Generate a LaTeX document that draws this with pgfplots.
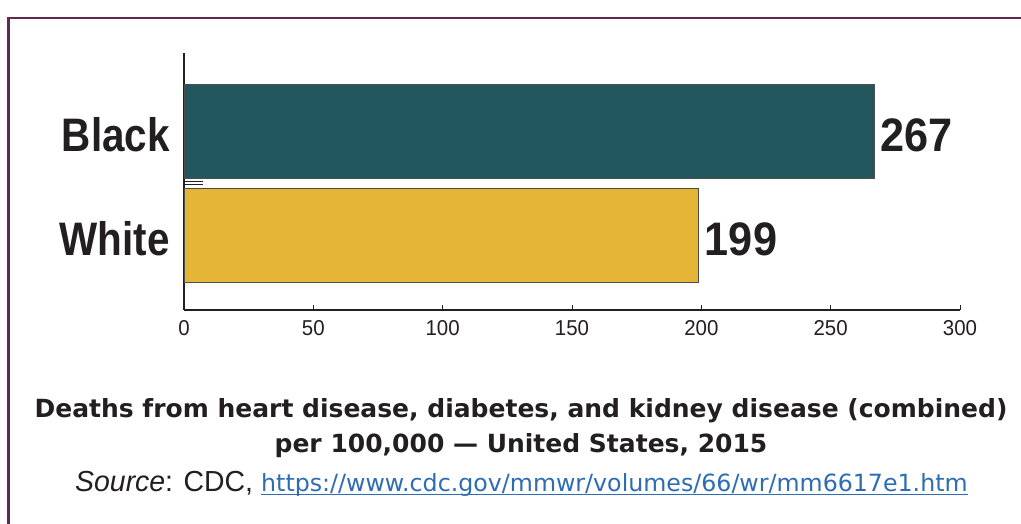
\documentclass[border=0pt]{standalone}
\usepackage{fontspec}
\setmainfont{Liberation Sans}
\newfontfamily\catfont[FakeStretch=0.86]{Liberation Sans}
\newfontfamily\numfont[FakeStretch=0.92]{Liberation Sans}
\newfontfamily\titfont{DejaVu Sans}
\newfontfamily\srcfont[FakeStretch=0.98]{Liberation Sans}
\newfontfamily\tickfont[FakeStretch=0.95]{Liberation Sans}
\newfontfamily\urlfont{DejaVu Sans}
\usepackage{pgfplots}
\pgfplotsset{compat=1.18}
\definecolor{frame}{RGB}{94,42,78}
\definecolor{teal}{RGB}{34,87,94}
\definecolor{gold}{RGB}{228,181,55}
\definecolor{ink}{RGB}{35,31,32}
\definecolor{urlblue}{RGB}{46,109,180}
\begin{document}
\begin{tikzpicture}[x=1bp,y=1bp]
\useasboundingbox (0,0) rectangle (1021,524);
\fill[white] (0,0) rectangle (1021,524);
\draw[frame, line width=2.2bp] (8.5,0) -- (8.5,506) -- (1021,506);
\begin{axis}[
  at={(184bp,214bp)}, anchor=south west,
  scale only axis, width=776bp, height=257bp,
  xmin=0, xmax=300, ymin=-0.721, ymax=1.75,
  axis x line=bottom, axis y line=left,
  axis line style={ink, line width=1.2bp, -},
  xtick={0,50,...,300}, ytick=\empty,
  tick align=inside, major tick length=5bp,
  tick style={ink, line width=1bp},
  xticklabel style={font=\tickfont\fontsize{21.5bp}{24bp}\selectfont, text=ink, inner sep=0pt, yshift=-10bp},
  /pgf/number format/assume math mode=true,
  xbar, bar width=94bp, bar shift=0pt,
  clip=false,
]
\addplot[fill=teal, draw=ink!80, line width=0.9bp] coordinates {(267,1)};
\addplot[fill=gold, draw=ink!80, line width=0.9bp] coordinates {(199,0)};
\draw[ink, line width=1bp] ([yshift=1.3bp]axis cs:0,0.5) -- ([yshift=1.3bp,xshift=19bp]axis cs:0,0.5);
\draw[ink, line width=1bp] ([yshift=-1.3bp]axis cs:0,0.5) -- ([yshift=-1.3bp,xshift=19bp]axis cs:0,0.5);
\node[anchor=east, inner sep=0pt, text=ink, font=\catfont\bfseries\fontsize{47bp}{56bp}\selectfont] at ([xshift=-14bp,yshift=-4bp]axis cs:0,1) {Black};
\node[anchor=east, inner sep=0pt, text=ink, font=\catfont\bfseries\fontsize{47bp}{56bp}\selectfont] at ([xshift=-14bp,yshift=-4bp]axis cs:0,0) {White};
\node[anchor=west, inner sep=0pt, text=ink, font=\numfont\bfseries\fontsize{47bp}{56bp}\selectfont] at ([xshift=6bp,yshift=-4bp]axis cs:267,1) {267};
\node[anchor=west, inner sep=0pt, text=ink, font=\numfont\bfseries\fontsize{47bp}{56bp}\selectfont] at ([xshift=6bp,yshift=-4bp]axis cs:199,0) {199};
\end{axis}
\node[anchor=base, inner sep=0pt, text=ink, font=\titfont\bfseries\fontsize{25bp}{30bp}\selectfont] at (521,106) {Deaths from heart disease, diabetes, and kidney disease (combined)};
\node[anchor=base, inner sep=0pt, text=ink, font=\titfont\bfseries\fontsize{25bp}{30bp}\selectfont] at (521,71) {per 100,000 — United States, 2015};
\node[anchor=base west, inner sep=0pt, text=ink, font=\srcfont\fontsize{29bp}{32bp}\selectfont] at (75,32) {\textit{Source}: CDC,};
\node[anchor=base west, inner sep=0pt, text=urlblue, font=\urlfont\fontsize{23.7bp}{28bp}\selectfont] (url) at (261,32) {https://www.cdc.gov/mmwr/volumes/66/wr/mm6617e1.htm};
\draw[urlblue, line width=1bp] ([yshift=-2.5bp]url.base west) -- ([yshift=-2.5bp]url.base east);
\end{tikzpicture}
\end{document}
